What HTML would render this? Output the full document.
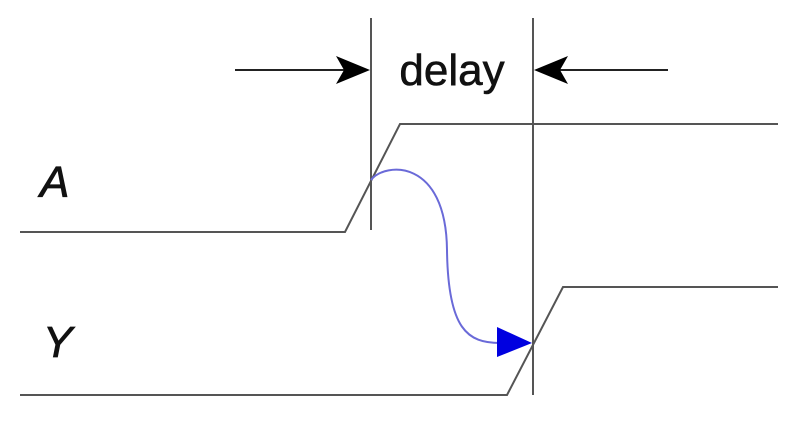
<!DOCTYPE html>
<html><head><style>
html,body{margin:0;padding:0;background:#fff;width:800px;height:424px;overflow:hidden}
</style></head><body>
<svg width="800" height="424" viewBox="0 0 800 424" xmlns="http://www.w3.org/2000/svg">
<g stroke="#555" stroke-width="2" fill="none">
<line x1="371" y1="18" x2="371" y2="230"/>
<line x1="533" y1="18" x2="533" y2="395"/>
<polyline points="20,232 345,232 400,124 778,124"/>
<polyline points="20,395 507,395 563,287 778,287"/>
<line x1="235" y1="70" x2="345" y2="70" stroke="#222"/>
<line x1="560" y1="70" x2="668" y2="70" stroke="#222"/>
</g>
<polygon points="336,56 370,70 336,84 344,70" fill="#000"/>
<polygon points="568,56 534,70 568,84 560,70" fill="#000"/>
<text x="452" y="85" font-family="Liberation Sans, sans-serif" font-size="44" text-anchor="middle" fill="#111" stroke="#111" stroke-width="0.6">delay</text>
<text x="40" y="197" font-family="Liberation Sans, sans-serif" font-size="44" font-style="italic" fill="#111" stroke="#111" stroke-width="0.8">A</text>
<text x="43" y="357" font-family="Liberation Sans, sans-serif" font-size="44" font-style="italic" fill="#111" stroke="#111" stroke-width="0.8">Y</text>
<path d="M371,180 C385,162 446,158 447,250 C448,330 468,343 500,343" stroke="#6a6ad8" stroke-width="2" fill="none"/>
<polygon points="497,327 532,343 497,357" fill="#0000e0"/>
</svg>
</body></html>
